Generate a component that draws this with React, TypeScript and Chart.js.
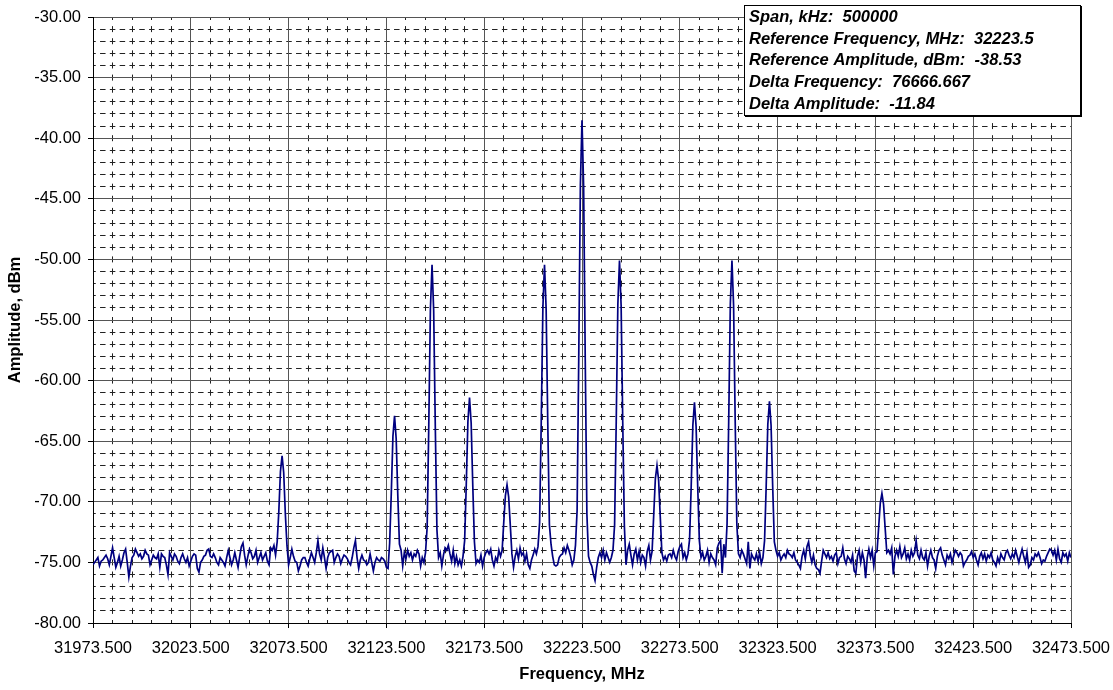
import React, { useEffect, useRef } from 'react';
import { Chart, registerables } from 'chart.js';

Chart.register(...registerables);

const FONT = "'Liberation Sans', Arial, Helvetica, sans-serif";

// Sweep settings (from the info box: span 500000 kHz)
const startFreqMHz = 31973.5;
const spanMHz = 500;

// Axis tick labels
const freqTicks = [31973.5, 32023.5, 32073.5, 32123.5, 32173.5, 32223.5, 32273.5, 32323.5, 32373.5, 32423.5, 32473.5];
const ampTicks = [-80, -75, -70, -65, -60, -55, -50, -45, -40, -35, -30];

// Measured trace, dBm (601 sweep points)
const amplitudeDbm = [
  -75.2, -75.0, -74.8, -74.6, -75.3, -74.9, -74.8, -74.6, -74.4, -74.7, -75.2, -74.5, -73.8, -74.6, -75.4, -75.0, -74.5, -75.3, -74.8, -74.2,
  -73.9, -75.0, -76.2, -75.3, -74.6, -74.4, -73.9, -74.2, -74.5, -74.3, -74.7, -74.5, -74.0, -74.3, -74.4, -75.2, -74.8, -74.4, -74.6, -74.7,
  -74.3, -75.4, -74.3, -74.5, -74.6, -75.2, -76.0, -74.2, -74.5, -74.8, -74.3, -74.5, -74.9, -75.1, -74.6, -74.3, -74.7, -75.0, -74.6, -75.3,
  -74.9, -74.5, -74.3, -74.4, -75.5, -75.8, -75.0, -74.8, -74.5, -74.4, -74.0, -73.9, -74.5, -74.6, -74.3, -74.6, -75.0, -75.2, -74.6, -74.8,
  -75.0, -75.3, -74.6, -74.0, -74.6, -75.2, -74.8, -74.2, -74.8, -75.4, -74.5, -73.7, -73.4, -74.4, -75.2, -74.5, -73.9, -74.2, -74.7, -74.5,
  -74.0, -75.0, -74.6, -74.2, -74.8, -74.5, -74.2, -74.9, -75.2, -73.8, -74.0, -73.6, -74.4, -73.3, -70.8, -67.5, -66.2, -67.6, -71.0, -73.6,
  -75.2, -74.6, -73.9, -74.5, -74.9, -75.0, -75.7, -75.3, -74.8, -74.6, -74.6, -75.0, -75.3, -74.7, -74.2, -74.6, -75.0, -74.2, -73.2, -74.3,
  -74.8, -73.8, -74.6, -75.5, -74.6, -74.2, -74.1, -74.0, -75.0, -74.6, -74.3, -74.5, -75.1, -74.7, -74.4, -74.5, -74.7, -75.0, -75.2, -74.6,
  -73.8, -73.2, -74.6, -75.5, -74.8, -74.4, -74.8, -74.9, -75.2, -75.0, -74.3, -75.0, -75.7, -75.0, -74.6, -74.8, -74.9, -74.6, -74.7, -74.9,
  -75.4, -75.5, -73.4, -69.3, -64.6, -62.9, -64.8, -69.5, -73.5, -74.0, -75.3, -74.2, -74.7, -74.0, -74.5, -74.2, -74.8, -74.3, -74.5, -74.0,
  -74.3, -75.3, -74.6, -75.0, -74.2, -72.1, -63.7, -54.1, -50.45, -54.2, -63.8, -72.3, -74.6, -74.2, -75.3, -74.4, -73.8, -74.0, -73.6, -74.3,
  -74.9, -74.0, -75.1, -74.5, -75.2, -74.8, -75.3, -74.5, -73.2, -68.6, -63.4, -61.4, -63.5, -68.7, -73.3, -75.1, -74.8, -75.0, -74.4, -75.3,
  -74.6, -74.2, -74.0, -74.3, -73.9, -74.8, -75.3, -74.6, -74.9, -74.0, -74.5, -74.0, -71.7, -69.5, -68.6, -69.6, -71.9, -74.3, -75.4, -74.5,
  -74.0, -74.7, -73.8, -74.4, -74.2, -74.9, -74.3, -75.2, -75.5, -74.8, -74.4, -73.9, -74.3, -73.7, -71.7, -63.4, -54.0, -50.45, -54.1, -63.5,
  -71.9, -73.5, -74.5, -75.2, -75.3, -75.2, -74.6, -74.4, -74.3, -73.8, -74.2, -73.6, -74.0, -74.5, -75.2, -74.8, -73.6, -70.7, -58.2, -43.9,
  -38.53, -44.0, -58.4, -71.0, -74.5, -75.0, -75.3, -76.0, -76.5, -75.4, -74.6, -74.2, -74.6, -74.0, -74.8, -74.2, -74.6, -75.0, -74.6, -74.0,
  -71.9, -63.4, -53.7, -50.1, -53.8, -63.5, -72.0, -75.2, -74.0, -73.5, -74.4, -75.2, -74.3, -73.9, -74.8, -74.1, -75.0, -74.4, -74.6, -75.3,
  -74.1, -73.6, -74.8, -74.1, -71.1, -68.1, -67.0, -68.2, -71.2, -74.2, -74.8, -74.5, -74.9, -74.4, -74.3, -74.6, -74.0, -74.5, -74.8, -74.1,
  -73.7, -73.5, -74.6, -74.2, -74.8, -74.3, -73.1, -68.7, -63.7, -61.8, -63.8, -68.8, -73.2, -74.6, -74.2, -74.8, -74.5, -74.0, -75.0, -74.3,
  -74.6, -74.8, -75.2, -73.8, -73.4, -73.2, -75.9, -73.5, -74.6, -71.8, -63.4, -53.7, -50.1, -53.8, -63.5, -71.9, -74.3, -74.6, -74.0, -74.3,
  -74.7, -75.1, -73.3, -75.5, -74.3, -74.6, -74.8, -74.3, -74.9, -74.2, -75.1, -74.6, -73.2, -68.7, -63.6, -61.7, -63.7, -68.8, -73.3, -74.0,
  -74.5, -74.2, -74.8, -74.5, -74.3, -74.6, -74.0, -74.3, -74.4, -74.6, -74.2, -74.8, -75.0, -75.2, -75.5, -74.5, -74.0, -74.7, -73.7, -73.3,
  -74.4, -75.0, -74.4, -75.2, -75.5, -75.6, -75.9, -74.9, -74.0, -74.3, -74.6, -74.2, -74.7, -74.5, -74.9, -74.4, -74.2, -75.1, -74.6, -74.5,
  -73.8, -74.7, -75.1, -74.5, -74.7, -75.0, -74.4, -75.7, -75.9, -74.5, -74.0, -75.0, -74.2, -74.8, -76.3, -74.6, -73.9, -74.6, -74.0, -75.3,
  -74.2, -74.1, -72.1, -70.1, -69.3, -70.2, -72.2, -74.2, -74.0, -74.3, -73.8, -76.0, -74.5, -74.0, -74.5, -73.7, -74.6, -74.3, -73.8, -74.7,
  -74.3, -74.8, -74.0, -74.5, -74.2, -73.2, -74.4, -74.7, -74.0, -74.6, -74.8, -74.2, -75.3, -74.5, -74.0, -74.6, -74.8, -75.5, -74.5, -74.0,
  -73.8, -74.4, -74.8, -75.2, -74.4, -74.7, -74.3, -75.0, -74.5, -74.0, -74.2, -74.5, -74.2, -74.4, -75.3, -75.0, -74.8, -74.5, -74.4, -74.1,
  -74.6, -74.3, -74.8, -75.2, -74.5, -74.2, -74.7, -74.3, -74.9, -74.4, -74.6, -74.2, -74.8, -75.0, -75.3, -74.6, -75.0, -74.3, -74.6, -74.8,
  -74.2, -74.0, -74.4, -74.7, -74.3, -74.6, -74.0, -74.5, -75.0, -74.4, -73.9, -74.5, -75.0, -74.2, -75.4, -75.2, -74.6, -74.8, -74.3, -74.5,
  -74.2, -74.6, -75.1, -74.8, -74.9, -74.5, -74.2, -73.9, -74.0, -74.4, -74.0, -74.8, -73.9, -74.7, -75.0, -74.2, -74.5, -74.3, -74.9, -74.2, -74.6,
];

// Info box text
const infoLabels = ['Span, kHz:', 'Reference Frequency, MHz:', 'Reference Amplitude, dBm:', 'Delta Frequency:', 'Delta Amplitude:'];
const infoValues = ['500000', '32223.5', '-38.53', '76666.667', '-11.84'];

const MINOR_PER_MAJOR = 5;

function subdivide(ticks: number[]): number[] {
  const out: number[] = [];
  for (let k = 0; k < ticks.length - 1; k++) {
    const a = ticks[k];
    const b = ticks[k + 1];
    for (let j = 1; j < MINOR_PER_MAJOR; j++) out.push(a + (j * (b - a)) / MINOR_PER_MAJOR);
  }
  return out;
}

const infoBoxPlugin = {
  id: 'infoBox',
  afterDraw(chart: any) {
    const ctx = chart.ctx as CanvasRenderingContext2D;
    ctx.save();
    // shadow
    ctx.fillStyle = '#000';
    ctx.fillRect(745, 6, 337, 111);
    // box
    ctx.fillStyle = '#fff';
    ctx.fillRect(744, 5, 337, 111);
    ctx.strokeStyle = '#000';
    ctx.lineWidth = 1;
    ctx.strokeRect(744.5, 5.5, 336, 110);
    ctx.fillStyle = '#000';
    ctx.font = `italic bold 16.5px ${FONT}`;
    ctx.textBaseline = 'middle';
    ctx.textAlign = 'left';
    infoLabels.forEach((lbl, k) => {
      ctx.fillText(`${lbl}  ${infoValues[k]}`, 749, 17.5 + 21.7 * k);
    });
    ctx.restore();
  },
};

export default function App() {
  const canvasRef = useRef<HTMLCanvasElement | null>(null);

  useEffect(() => {
    if (!canvasRef.current) return;
    const n = amplitudeDbm.length;
    const step = spanMHz / (n - 1);
    const points = amplitudeDbm.map((a, i) => ({ x: startFreqMHz + i * step, y: a }));
    const freqMin = freqTicks[0];
    const freqMax = freqTicks[freqTicks.length - 1];
    const ampMin = ampTicks[0];
    const ampMax = ampTicks[ampTicks.length - 1];
    const freqMinor = subdivide(freqTicks);
    const ampMinor = subdivide(ampTicks);

    const tickFont = { family: FONT, size: 16.5 };
    const titleFont = { family: FONT, size: 16.5, weight: 'bold' as const };

    const chart = new Chart(canvasRef.current, {
      type: 'line',
      data: {
        datasets: [
          {
            data: points,
            borderColor: '#000080',
            borderWidth: 1.7,
            pointRadius: 0,
            tension: 0,
            fill: false,
            xAxisID: 'x',
            yAxisID: 'y',
          },
        ],
      },
      options: {
        animation: false,
        responsive: false,
        layout: { padding: { left: 0, top: 17, right: 42, bottom: 0 } },
        plugins: {
          legend: { display: false },
          tooltip: { enabled: false },
        },
        scales: {
          xMinor: {
            type: 'linear',
            position: 'bottom',
            min: freqMin,
            max: freqMax,
            afterBuildTicks: (s: any) => {
              s.ticks = freqMinor.map((v) => ({ value: v }));
            },
            afterFit: (s: any) => {
              s.height = 0;
              s.paddingLeft = 0;
              s.paddingRight = 0;
            },
            ticks: { display: false },
            grid: { color: '#222', lineWidth: 1, drawTicks: false },
            border: { display: false, dash: [6, 6.12], dashOffset: 3 },
          },
          yMinor: {
            type: 'linear',
            position: 'left',
            min: ampMin,
            max: ampMax,
            afterBuildTicks: (s: any) => {
              s.ticks = ampMinor.map((v) => ({ value: v }));
            },
            afterFit: (s: any) => {
              s.width = 0;
              s.paddingTop = 0;
              s.paddingBottom = 0;
            },
            ticks: { display: false },
            grid: { color: '#222', lineWidth: 1, drawTicks: false },
            border: { display: false, dash: [5.5, 4.3], dashOffset: 2.75 },
          },
          x: {
            type: 'linear',
            position: 'bottom',
            min: freqMin,
            max: freqMax,
            afterBuildTicks: (s: any) => {
              s.ticks = freqTicks.map((v) => ({ value: v }));
            },
            afterFit: (s: any) => {
              s.height = 67;
              s.paddingLeft = 0;
              s.paddingRight = 0;
            },
            ticks: {
              callback: (v: any) => Number(v).toFixed(3),
              color: '#000',
              font: tickFont,
              padding: 11,
              maxRotation: 0,
              autoSkip: false,
            },
            grid: { color: '#555', lineWidth: 1, drawTicks: true, tickLength: 5, tickColor: '#000' },
            border: { display: true, color: '#000', width: 1 },
            title: {
              display: true,
              text: 'Frequency, MHz',
              color: '#000',
              font: titleFont,
              padding: { top: 0, bottom: 6 },
            },
          },
          y: {
            type: 'linear',
            position: 'left',
            min: ampMin,
            max: ampMax,
            afterBuildTicks: (s: any) => {
              s.ticks = ampTicks.map((v) => ({ value: v }));
            },
            afterFit: (s: any) => {
              s.width = 93;
              s.paddingTop = 0;
              s.paddingBottom = 0;
            },
            ticks: {
              callback: (v: any) => Number(v).toFixed(2),
              color: '#000',
              font: tickFont,
              padding: 7,
            },
            grid: { color: '#555', lineWidth: 1, drawTicks: true, tickLength: 5, tickColor: '#000' },
            border: { display: true, color: '#000', width: 1 },
            title: {
              display: true,
              text: 'Amplitude, dBm',
              color: '#000',
              font: titleFont,
              padding: { top: 6, bottom: 0 },
            },
          },
        },
      } as any,
      plugins: [infoBoxPlugin],
    });

    return () => chart.destroy();
  }, []);

  return (
    <div style={{ position: 'absolute', left: 0, top: 0, width: 1113, height: 690, background: '#fff' }}>
      <canvas ref={canvasRef} width={1113} height={690} style={{ display: 'block' }} />
    </div>
  );
}
